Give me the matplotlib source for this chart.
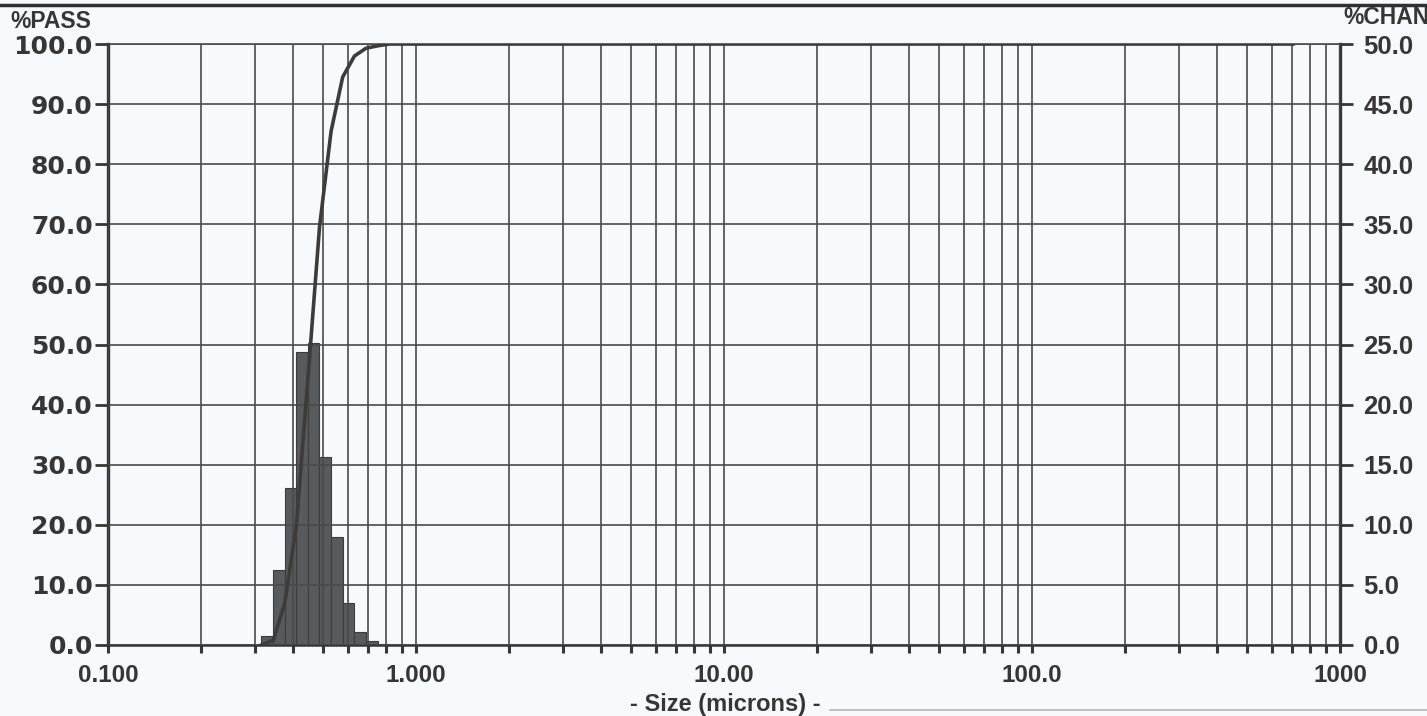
import matplotlib
matplotlib.use("Agg")
from matplotlib import pyplot as plt
from matplotlib.ticker import FixedLocator, NullFormatter
import numpy as np

# channel edges (microns) and % in each channel
edges = [0.315, 0.344, 0.375, 0.409, 0.446, 0.486, 0.530, 0.578, 0.631,
         0.688, 0.750, 0.818]
chan = [0.75, 6.2, 13.1, 24.4, 25.1, 15.6, 9.0, 3.5, 1.1, 0.36, 0.1]

# cumulative % passing curve
pass_size = [0.315, 0.344, 0.375, 0.409, 0.446, 0.486, 0.530, 0.578, 0.631,
             0.688, 0.750, 0.818, 704.0]
pass_pct = [0.0, 0.8, 7.0, 20.0, 44.5, 69.5, 85.5, 94.5, 98.0, 99.3, 99.7,
            100.0, 100.0]

x_major = [0.1, 1, 10, 100, 1000]
x_labels = ["0.100", "1.000", "10.00", "100.0", "1000"]
pass_ticks = np.arange(0, 101, 10)
chan_ticks = np.arange(0, 51, 5)

bg = "#f6fafc"
ink = "#363636"
grid_c = "#4a4a4a"

fig = plt.figure(figsize=(14.27, 7.16), dpi=100, facecolor=bg)
ax = fig.add_axes([0.0757, 0.0992, 0.8633, 0.8393])
ax.set_facecolor(bg)
ax2 = ax.twinx()

# bars on the %CHAN axis (right)
widths = np.diff(edges)
ax.bar(edges[:-1], chan, width=widths, align="edge", color="#575b5d",
       edgecolor="#3c3c3c", linewidth=0.8, zorder=1)
ax.set_xscale("log")
ax.set_xlim(0.1, 1000)
ax.set_ylim(0, 50)
ax.yaxis.tick_right()
ax.yaxis.set_label_position("right")
ax.set_yticks(chan_ticks)
ax.set_yticklabels(["%.1f" % v for v in chan_ticks], fontsize=18.5,
                   fontweight="bold", color=ink, family="Liberation Sans")
ax.tick_params(axis="y", direction="out", length=9, width=2, color=ink, pad=8)

minors = [m * 10.0 ** d for d in range(-1, 3) for m in range(2, 10)]
ax.xaxis.set_major_locator(FixedLocator(x_major))
ax.xaxis.set_minor_locator(FixedLocator(minors))
ax.xaxis.set_minor_formatter(NullFormatter())
ax.set_xticklabels(x_labels, fontsize=17.5, fontweight="bold", color=ink,
                   family="Liberation Sans")
ax.tick_params(axis="x", which="both", direction="out", length=6, width=2.2,
               color=ink, pad=8)

ax.set_axisbelow(False)
ax.grid(True, which="both", axis="x", color=grid_c, linewidth=1.2, zorder=2)
ax.grid(True, which="major", axis="y", color=grid_c, linewidth=1.2, zorder=2)

for side in ["left", "right"]:
    ax.spines[side].set_linewidth(2.4)
    ax.spines[side].set_color(ink)
ax.spines["bottom"].set_linewidth(1.8)
ax.spines["bottom"].set_color(ink)
ax.spines["top"].set_linewidth(1.2)
ax.spines["top"].set_color(grid_c)

# cumulative curve on the %PASS axis (left)
ax2.plot(pass_size, pass_pct, color="#3c3c3c", linewidth=2.6, zorder=3)
ax2.set_ylim(0, 100)
ax2.yaxis.tick_left()
ax2.yaxis.set_label_position("left")
ax2.set_yticks(pass_ticks)
ax2.set_yticklabels(["%.1f" % v for v in pass_ticks], fontsize=18,
                    fontweight="bold", color=ink, family="DejaVu Sans")
ax2.tick_params(axis="y", direction="out", length=9.5, width=2, color=ink,
                pad=1.5)
for s in ax2.spines.values():
    s.set_visible(False)

fig.text(10 / 1427, 1 - 21 / 716, "%PASS", fontsize=16.5, fontweight="bold",
         color=ink, family="Liberation Sans", va="center", ha="left")
fig.text(1343 / 1427, 1 - 17 / 716, "%CHAN", fontsize=16.5, fontweight="bold",
         color=ink, family="Liberation Sans", va="center", ha="left")
fig.text(725 / 1427, 1 - 704 / 716, "- Size (microns) -", fontsize=17,
         fontweight="bold", color=ink, family="Liberation Sans",
         va="center", ha="center")

# page border lines from the scan
fig.add_artist(plt.Line2D([0, 1], [1 - 5 / 716, 1 - 5 / 716], color="#303030",
                          linewidth=2.5, transform=fig.transFigure))
fig.add_artist(plt.Line2D([830 / 1427, 1], [1 - 710 / 716, 1 - 710 / 716],
                          color="#b5b5b5", linewidth=1.2,
                          transform=fig.transFigure))

fig.savefig("out.png", dpi=100, facecolor=bg)
